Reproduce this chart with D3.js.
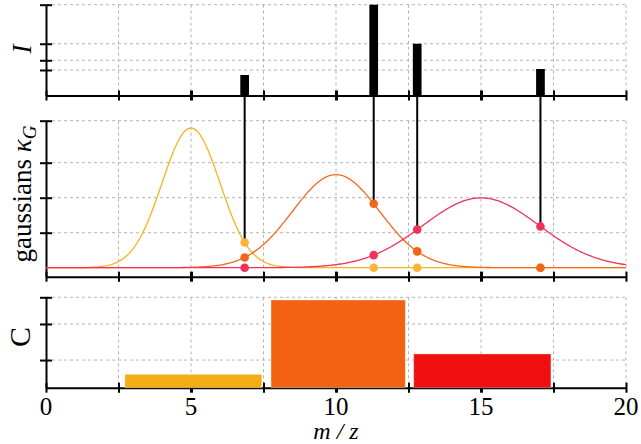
<!DOCTYPE html>
<html>
<head>
<meta charset="utf-8">
<script src="https://cdn.jsdelivr.net/npm/d3@7"></script>
<style>
  body { margin: 0; background: #fff; }
  svg { display: block; font-family: "Liberation Serif", "DejaVu Serif", serif; }
</style>
</head>
<body>
<svg width="641" height="444"></svg>
<script>
// peaks of the spectrum (m/z, intensity)
const peakMz = [6.85, 11.3, 12.8, 17.05];
const peakI = [0.226, 1.0, 0.57, 0.292];
const iTicks = [0.281, 0.388, 0.57, 1.0];

// gaussian kernels
const gaussMean = [5, 10, 15];
const gaussSigma = [1, 1.5, 2];
const gaussTicks = [0.1, 0.2, 0.3, 0.42];

// C bins
const cStart = [2.72, 7.76, 12.68];
const cEnd = [7.44, 12.39, 17.41];
const cValue = [0.148, 0.97, 0.373];
const cTicks = [0.306, 0.705, 1.0];

const xTicks = [0, 2.5, 5, 7.5, 10, 12.5, 15, 17.5, 20];
const xLabels = [0, 5, 10, 15, 20];

const lineColors = ['#f5b31e', '#f26a22', '#f0325a'];
const dotColors = ['#fcb33c', '#f26419', '#f0325a'];
const barColors = ['#f2ae12', '#f26212', '#f00e0e'];

var svg = d3.select('svg');

var x = d3.scaleLinear().domain([0, 20]).range([46, 626]);
var yI = d3.scaleLinear().domain([0, 1]).range([95.5, 4.7]);
var yG = d3.scaleLinear().domain([-0.0257, 0.42]).range([276.7, 120.7]);
var yC = d3.scaleLinear().domain([0, 1]).range([387.7, 297.3]);

function pdf(v, k) {
    var s = gaussSigma[k], z = (v - gaussMean[k]) / s;
    return Math.exp(-0.5 * z * z) / (s * Math.sqrt(2 * Math.PI));
}

// grid + axes for one panel
function panel(y, ticks) {
    var top = y.range()[1], bottom = y.range()[0];
    var g = svg.append('g');
    g.selectAll('.vg').data(xTicks.slice(1)).enter().append('line')
        .attr('x1', d => x(d)).attr('x2', d => x(d))
        .attr('y1', top).attr('y2', bottom)
        .attr('stroke', '#b4b4b4').attr('stroke-dasharray', '3,3');
    g.selectAll('.hg').data(ticks).enter().append('line')
        .attr('x1', x(0)).attr('x2', x(20))
        .attr('y1', d => y(d)).attr('y2', d => y(d))
        .attr('stroke', '#b4b4b4').attr('stroke-dasharray', '3,3');

    var ax = svg.append('g').attr('transform', 'translate(0,' + bottom + ')')
        .call(d3.axisBottom(x).tickValues(xTicks).tickSize(0).tickSizeOuter(0).tickFormat(''));
    ax.selectAll('.tick line').attr('y1', -5).attr('y2', 5)
        .attr('stroke-width', d => (d % 5 == 0 && d > 0 && d < 20) ? 3 : 2);
    ax.select('.domain').attr('stroke-width', 2);

    var ay = svg.append('g').attr('transform', 'translate(' + x(0) + ',0)')
        .call(d3.axisLeft(y).tickValues(ticks).tickSize(0).tickSizeOuter(0).tickFormat(''));
    ay.selectAll('.tick line').attr('x1', -6).attr('x2', 6).attr('stroke-width', 2);
    ay.select('.domain').attr('stroke-width', 2);
    return ay;
}

panel(yI, iTicks);
panel(yG, gaussTicks);
panel(yC, cTicks);

// intensity sticks
svg.append('g').selectAll('rect').data(peakMz).enter().append('rect')
    .attr('x', d => x(d - 0.15)).attr('width', x(0.3) - x(0))
    .attr('y', (d, i) => yI(peakI[i]))
    .attr('height', (d, i) => yI(0) - yI(peakI[i]))
    .attr('fill', '#000');

// gaussian curves
var xs = d3.range(0, 20.001, 0.05);
gaussMean.forEach(function (m, k) {
    svg.append('path')
        .datum(xs)
        .attr('fill', 'none')
        .attr('stroke', lineColors[k])
        .attr('stroke-width', 1.3)
        .attr('d', d3.line().x(d => x(d)).y(d => yG(pdf(d, k))));
});

// drop lines from sticks to highest kernel value
svg.append('g').selectAll('line').data(peakMz).enter().append('line')
    .attr('x1', d => x(d)).attr('x2', d => x(d))
    .attr('y1', yI(0) + 1)
    .attr('y2', d => yG(d3.max(gaussMean, (m, k) => pdf(d, k))))
    .attr('stroke', '#000').attr('stroke-width', 2);

// kernel values at each peak
gaussMean.forEach(function (m, k) {
    svg.append('g').selectAll('circle').data(peakMz).enter().append('circle')
        .attr('cx', d => x(d)).attr('cy', d => yG(pdf(d, k)))
        .attr('r', 4.3).attr('fill', dotColors[k]);
});

// C bars
svg.append('g').selectAll('rect').data(cValue).enter().append('rect')
    .attr('x', (d, i) => x(cStart[i]))
    .attr('width', (d, i) => x(cEnd[i]) - x(cStart[i]))
    .attr('y', d => yC(d))
    .attr('height', d => yC(0) - yC(d))
    .attr('fill', (d, i) => barColors[i])
    .attr('stroke', '#ffffff').attr('stroke-opacity', 0.3);

// tick labels
svg.append('g').selectAll('text').data(xLabels).enter().append('text')
    .attr('x', d => x(d)).attr('y', 415)
    .attr('text-anchor', 'middle').attr('font-size', 25)
    .text(d => d);

// axis titles
svg.append('text').attr('x', 336).attr('y', 439).attr('text-anchor', 'middle')
    .attr('font-size', 24).attr('font-style', 'italic').text('m / z');

svg.append('text').attr('transform', 'translate(31,49) rotate(-90)')
    .attr('text-anchor', 'middle').attr('font-size', 27).attr('font-style', 'italic').text('I');

var gt = svg.append('text').attr('transform', 'translate(31,194) rotate(-90)')
    .attr('text-anchor', 'middle').attr('font-size', 27);
gt.append('tspan').text('gaussians ');
gt.append('tspan').attr('font-style', 'italic').text('κ');
gt.append('tspan').attr('font-style', 'italic').attr('font-size', 19).attr('dy', 5).text('G');

svg.append('text').attr('transform', 'translate(30,337) rotate(-90)')
    .attr('text-anchor', 'middle').attr('font-size', 30).text('C');
</script>
</body>
</html>
